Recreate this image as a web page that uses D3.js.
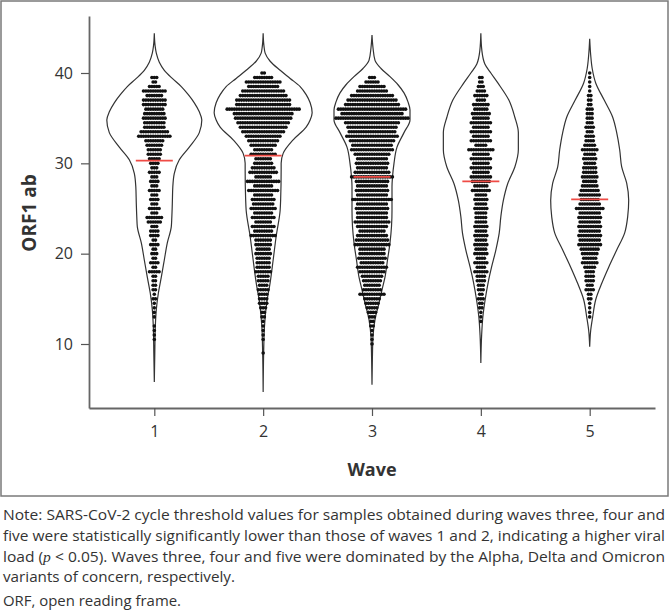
<html lang="en">
	<head>
		<meta charset="utf-8">
		<title>ORF1 ab Ct values by wave</title>
		<script type="text/javascript" src="https://cdn.jsdelivr.net/npm/d3@7"></script>
		<style type="text/css">
		body{margin:0;background:#fff;}
		text{font-family:"Open Sans", "Noto Sans", sans-serif;fill:#333;}
		</style>
	</head>
	<body>
		<script type="text/javascript">

			//Width and height
			var w = 670;
			var h = 613;

			var waves = [1, 2, 3, 4, 5];
			var yTicks = [10, 20, 30, 40];
			var medians = [30.3, 30.85, 28.5, 28.0, 26.0];

			//Ct rows of the dot plot
			var ctRows = [9, 9.5, 10, 10.5, 11, 11.5, 12, 12.5, 13, 13.5, 14, 14.5, 15, 15.5, 16, 16.5,
				17, 17.5, 18, 18.5, 19, 19.5, 20, 20.5, 21, 21.5, 22, 22.5, 23, 23.5, 24, 24.5,
				25, 25.5, 26, 26.5, 27, 27.5, 28, 28.5, 29, 29.5, 30, 30.5, 31, 31.5, 32, 32.5,
				33, 33.5, 34, 34.5, 35, 35.5, 36, 36.5, 37, 37.5, 38, 38.5, 39, 39.5, 40];

			//number of samples in each row
			var wave1 = [0,0,0,1,1,1,1,0,1,1,1,1,2,1,2,2, 2,2,5,2,4,2,3,2,4,2,4,4,3,6,7,3,
				5,3,4,3,5,3,4,3,5,3,4,5,6,6,7,8, 14,12,9,9,10,9,8,10,10,7,10,5,2,3,0];
			var wave2 = [1,0,0,1,1,1,1,1,2,2,3,4,4,4,5,4, 5,5,7,6,6,6,7,6,7,7,11,8,10,7,10,8,
				11,9,10,8,13,8,14,7,12,10,8,7,11,8,11,13, 15,18,20,22,24,25,31,23,23,20,18,13,15,8,2];
			var wave3 = [0,0,1,1,1,1,2,2,3,4,5,6,7,11,8,7, 8,9,11,13,10,12,11,11,15,14,13,11,13,15,13,13,
				14,13,17,13,14,13,14,18,15,13,14,13,15,18,17,19, 22,20,21,23,31,26,29,23,21,18,13,11,6,3,0];
			var wave4 = [0,0,0,0,0,0,0,1,1,1,2,2,3,2,3,3, 4,4,6,4,6,4,6,5,6,5,6,5,6,5,5,5,
				6,5,6,5,8,6,8,9,7,9,7,9,7,11,5,9, 7,9,7,9,7,8,6,7,4,6,4,3,2,2,0];
			var wave5 = [0,0,0,0,0,0,0,0,1,1,1,1,2,2,4,3, 4,4,4,5,7,6,7,8,10,9,10,9,10,9,10,9,
				12,9,8,9,8,7,6,7,6,6,5,6,5,7,5,4, 4,3,4,3,3,3,3,2,2,2,1,1,1,1,1];
			var counts = [wave1, wave2, wave3, wave4, wave5];

			//violin outlines: [Ct, density]
			var violin1 = [[5.8,0],[9,0.01],[11.9,0.02],[13.8,0.04],[15.6,0.08],[17.4,0.14],[19.3,0.2],[21.2,0.26],
				[23,0.34],[24,0.35],[25.5,0.36],[27.4,0.37],[28.9,0.4],[30.4,0.5],[31.8,0.7],[33.4,0.9],
				[34.8,0.95],[35.7,0.9],[36.7,0.8],[37.6,0.68],[38.5,0.54],[39.4,0.36],[40.3,0.2],[41.2,0.1],
				[42.2,0.04],[43,0.016],[44.4,0]];
			var violin2 = [[4.7,0],[9,0.01],[11.9,0.026],[14.5,0.07],[16.8,0.14],[19.3,0.2],[21.9,0.26],[24.8,0.34],
				[26,0.35],[29.3,0.36],[30,0.36],[31.1,0.4],[32.6,0.6],[34,0.86],[34.8,0.94],[35.6,0.98],
				[36.7,0.94],[37.6,0.86],[38.5,0.74],[39.4,0.54],[40.3,0.34],[41.3,0.14],[42.2,0.04],[43,0.016],[44.4,0]];
			var violin3 = [[5.5,0],[8.5,0.008],[10.8,0.02],[12.7,0.06],[14.5,0.14],[16,0.2],[17.4,0.26],[19.3,0.31],
				[21.2,0.36],[23,0.39],[24.8,0.4],[27.4,0.4],[28.5,0.41],[30,0.44],[31.8,0.5],[33.4,0.64],
				[34.8,0.76],[35.9,0.76],[36.8,0.72],[37.8,0.64],[38.7,0.52],[39.6,0.36],[40.5,0.18],[41.4,0.06],
				[42.8,0.02],[44.2,0]];
			var violin4 = [[7.9,0],[11,0.016],[13,0.04],[14.9,0.086],[16.8,0.146],[18.5,0.214],[20.4,0.3],[22.3,0.368],
				[24.1,0.4],[25.9,0.45],[27.8,0.54],[29.6,0.68],[31.5,0.75],[33.4,0.75],[35.1,0.68],[37,0.56],
				[38.9,0.34],[40,0.2],[41,0.08],[42.5,0.02],[44.4,0]];
			var violin5 = [[9.7,0],[11.5,0.02],[13,0.06],[14.9,0.12],[16.8,0.248],[18.5,0.38],[20.4,0.54],[22.3,0.7],
				[24.1,0.76],[25.9,0.78],[27.8,0.74],[29.6,0.64],[31.5,0.6],[33.4,0.54],[35.1,0.46],[37,0.29],
				[38.9,0.12],[40.5,0.05],[42,0.02],[43.8,0]];
			var violins = [violin1, violin2, violin3, violin4, violin5];

			var noteLines = [
				"Note: SARS-CoV-2 cycle threshold values for samples obtained during waves three, four and",
				"five were statistically significantly lower than those of waves 1 and 2, indicating a higher viral",
				"load (p < 0.05). Waves three, four and five were dominated by the Alpha, Delta and Omicron",
				"variants of concern, respectively."
			];

			var xScale = d3.scaleLinear()
							.domain([0.4, 5.6])
							.range([89, 655]);

			var yScale = d3.scaleLinear()
							.domain([2.915, 46.31])
							.range([408, 16]);

			//half width of the violin in px
			var wScale = d3.scaleLinear()
							.domain([0, 1])
							.range([0, 50]);

			var dotStep = 2.4;

			//Create SVG element
			var svg = d3.select("body")
						.append("svg")
						.attr("width", w)
						.attr("height", h);

			//outer frame
			svg.append("rect")
				.attr("x", 1)
				.attr("y", 1)
				.attr("width", 667)
				.attr("height", 495)
				.attr("fill", "none")
				.attr("stroke", "#7a7a7a")
				.attr("stroke-width", 1.5);

			//violins
			violins.forEach(function(v, i) {
				var cx = xScale(waves[i]);
				var area = d3.area()
					.curve(d3.curveMonotoneY)
					.y(function(d) { return yScale(d[0]); })
					.x0(function(d) { return cx - wScale(d[1]); })
					.x1(function(d) { return cx + wScale(d[1]); });
				svg.append("path")
					.datum(v)
					.attr("d", area)
					.attr("fill", "none")
					.attr("stroke", "#333")
					.attr("stroke-width", 1.2);
			});

			//dots
			counts.forEach(function(c, i) {
				var cx = xScale(waves[i]);
				var pts = [];
				c.forEach(function(n, r) {
					for (var j = 0; j < n; j++) {
						pts.push({x: cx + (j - (n - 1) / 2) * dotStep, y: yScale(ctRows[r])});
					}
				});
				svg.append("g")
					.selectAll("circle")
					.data(pts)
					.enter()
					.append("circle")
					.attr("cx", function(d) { return d.x; })
					.attr("cy", function(d) { return d.y; })
					.attr("r", 1.8)
					.attr("fill", "#111");
			});

			//medians
			svg.selectAll("line.median")
				.data(medians)
				.enter()
				.append("line")
				.attr("class", "median")
				.attr("x1", function(d, i) { return xScale(waves[i]) - 18.5; })
				.attr("x2", function(d, i) { return xScale(waves[i]) + 18.5; })
				.attr("y1", function(d) { return yScale(d); })
				.attr("y2", function(d) { return yScale(d); })
				.attr("stroke", "#ef4b45")
				.attr("stroke-width", 1.8);

			//axes
			var xAxis = d3.axisBottom(xScale)
							.tickValues(waves)
							.tickFormat(d3.format("d"))
							.tickSize(8)
							.tickSizeOuter(0)
							.tickPadding(10);
			var yAxis = d3.axisLeft(yScale)
							.tickValues(yTicks)
							.tickSize(8)
							.tickSizeOuter(0)
							.tickPadding(8);

			var gx = svg.append("g")
				.attr("transform", "translate(0,408)")
				.call(xAxis);
			var gy = svg.append("g")
				.attr("transform", "translate(89,0)")
				.call(yAxis);

			[gx, gy].forEach(function(g) {
				g.select(".domain").attr("stroke", "#666").attr("stroke-width", 1.8);
				g.selectAll(".tick line").attr("stroke", "#555").attr("stroke-width", 1.2);
				g.selectAll(".tick text")
					.attr("font-family", "'Open Sans', sans-serif")
					.attr("font-size", "16px")
					.attr("fill", "#333");
			});

			//axis titles
			svg.append("text")
				.attr("transform", "translate(36,213) rotate(-90)")
				.attr("text-anchor", "middle")
				.attr("font-size", "19px")
				.attr("font-weight", "bold")
				.text("ORF1 ab");

			svg.append("text")
				.attr("x", 372)
				.attr("y", 476)
				.attr("text-anchor", "middle")
				.attr("font-size", "18px")
				.attr("font-weight", "bold")
				.text("Wave");

			//note
			var noteWidths = [662, 662, 662, 232];
			noteLines.forEach(function(t, i) {
				var tx = svg.append("text")
					.attr("x", 3)
					.attr("y", 520 + i * 20.8)
					.attr("font-size", "14.5px")
					.attr("textLength", noteWidths[i])
					.attr("lengthAdjust", "spacingAndGlyphs");
				if (i == 2) {
					tx.append("tspan").text("load (");
					tx.append("tspan").attr("font-style", "italic").attr("font-family", "'Liberation Serif', serif").text("p");
					tx.append("tspan").text(" < 0.05). Waves three, four and five were dominated by the Alpha, Delta and Omicron");
				} else {
					tx.text(t);
				}
			});

			svg.append("text")
				.attr("x", 3)
				.attr("y", 606)
				.attr("font-size", "14.5px")
				.attr("textLength", 178)
				.attr("lengthAdjust", "spacingAndGlyphs")
				.text("ORF, open reading frame.");

		</script>
	</body>
</html>
